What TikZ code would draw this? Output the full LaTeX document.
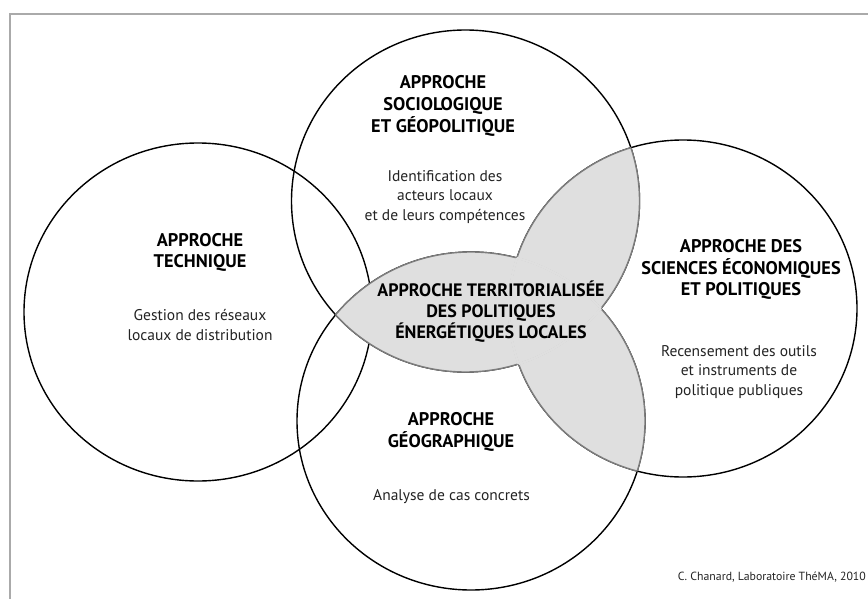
\documentclass[tikz,border=0pt]{standalone}
\usepackage{fontspec}
\setmainfont{PT Sans}
\definecolor{lobe}{RGB}{223,223,223}
\definecolor{edgegray}{RGB}{125,125,125}
\definecolor{framegray}{RGB}{170,170,170}
\definecolor{bodytext}{RGB}{35,35,35}
\begin{document}
\begin{tikzpicture}[x=1pt,y=-1pt,
  ring/.style={draw=black, line width=1.4pt},
  lobeedge/.style={draw=edgegray, line width=1.4pt},
  lobefill/.style={fill=lobe},
  lobehide/.style={draw=lobe, line width=2.4pt},
  frameline/.style={draw=framegray, line width=2pt},
  title/.style={font=\bfseries\fontsize{18.3}{21.8}\selectfont, align=center, text=black, inner sep=0pt},
  core/.style={font=\bfseries\fontsize{18}{21}\selectfont, align=center, text=black, inner sep=0pt},
  body/.style={font=\fontsize{15.5}{19.5}\selectfont, align=center, text=bodytext, inner sep=0pt},
  credit/.style={font=\fontsize{11.8}{13}\selectfont, text=bodytext, inner sep=0pt},
]
\useasboundingbox (0,0) rectangle (868,599);
\clip (0,0) rectangle (868,599);
% frame
\coordinate (f1) at (10,640);
\coordinate (f2) at (10,14);
\coordinate (f3) at (900,14);
\draw[frameline] (f1) -- (f2) -- (f3);
% circle centres
\coordinate (cL) at (198,312);
\coordinate (cT) at (465.5,201);
\coordinate (cB) at (471,421);
\coordinate (cR) at (683,308.5);
% black outlines
\draw[ring] (cL) ellipse [x radius=174pt, y radius=169pt];
\draw[ring] (cT) ellipse [x radius=174pt, y radius=171pt];
\draw[ring] (cB) ellipse [x radius=174pt, y radius=169pt];
\draw[ring] (cR) ellipse [x radius=174pt, y radius=168.5pt];
% grey pairwise overlaps
\begin{scope}
  \clip (cT) ellipse [x radius=174pt, y radius=171pt];
  \fill[lobefill] (cR) ellipse [x radius=174pt, y radius=168.5pt];
  \fill[lobefill] (cB) ellipse [x radius=174pt, y radius=169pt];
\end{scope}
\begin{scope}
  \clip (cB) ellipse [x radius=174pt, y radius=169pt];
  \fill[lobefill] (cR) ellipse [x radius=174pt, y radius=168.5pt];
\end{scope}
% grey edges of the shaded shape
\begin{scope}
  \clip (cB) ellipse [x radius=174pt, y radius=169pt] (cR) ellipse [x radius=174pt, y radius=168.5pt];
  \draw[lobeedge] (cT) ellipse [x radius=174pt, y radius=171pt];
\end{scope}
\begin{scope}
  \clip (cT) ellipse [x radius=174pt, y radius=171pt] (cR) ellipse [x radius=174pt, y radius=168.5pt];
  \draw[lobeedge] (cB) ellipse [x radius=174pt, y radius=169pt];
\end{scope}
\begin{scope}
  \clip (cT) ellipse [x radius=174pt, y radius=171pt] (cB) ellipse [x radius=174pt, y radius=169pt];
  \draw[lobeedge] (cR) ellipse [x radius=174pt, y radius=168.5pt];
\end{scope}
% hide the inner edges that fall inside the shaded shape
\begin{scope}
  \clip (cB) ellipse [x radius=174pt, y radius=169pt];
  \clip (cR) ellipse [x radius=174pt, y radius=168.5pt];
  \draw[lobehide] (cT) ellipse [x radius=174pt, y radius=171pt];
\end{scope}
\begin{scope}
  \clip (cT) ellipse [x radius=174pt, y radius=171pt];
  \clip (cR) ellipse [x radius=174pt, y radius=168.5pt];
  \draw[lobehide] (cB) ellipse [x radius=174pt, y radius=169pt];
\end{scope}
\begin{scope}
  \clip (cT) ellipse [x radius=174pt, y radius=171pt];
  \clip (cB) ellipse [x radius=174pt, y radius=169pt];
  \draw[lobehide] (cR) ellipse [x radius=174pt, y radius=168.5pt];
\end{scope}
% texts
\node[title] (tT) at (443,106) {APPROCHE\\SOCIOLOGIQUE\\ET GÉOPOLITIQUE};
\node[body] (bT) at (445,197) {Identification des\\acteurs locaux\\et de leurs compétences};
\node[title] (tL) at (200,252.5) {APPROCHE\\TECHNIQUE};
\node[body] (bL) at (200,325) {Gestion des réseaux\\locaux de distribution};
\node[title] (tR) at (741,269.5) {APPROCHE DES\\SCIENCES ÉCONOMIQUES\\ET POLITIQUES};
\node[body] (bR) at (739,372) {Recensement des outils\\et instruments de\\politique publiques};
\node[core] (core) at (491,312) {APPROCHE TERRITORIALISÉE\\DES POLITIQUES\\ÉNERGÉTIQUES LOCALES};
\node[title] (tB) at (451,432) {APPROCHE\\GÉOGRAPHIQUE};
\node[body] (bB) at (451.5,497) {Analyse de cas concrets};
\node[credit, anchor=east] (cr) at (866,577) {C. Chanard, Laboratoire ThéMA, 2010};
\end{tikzpicture}
\end{document}
